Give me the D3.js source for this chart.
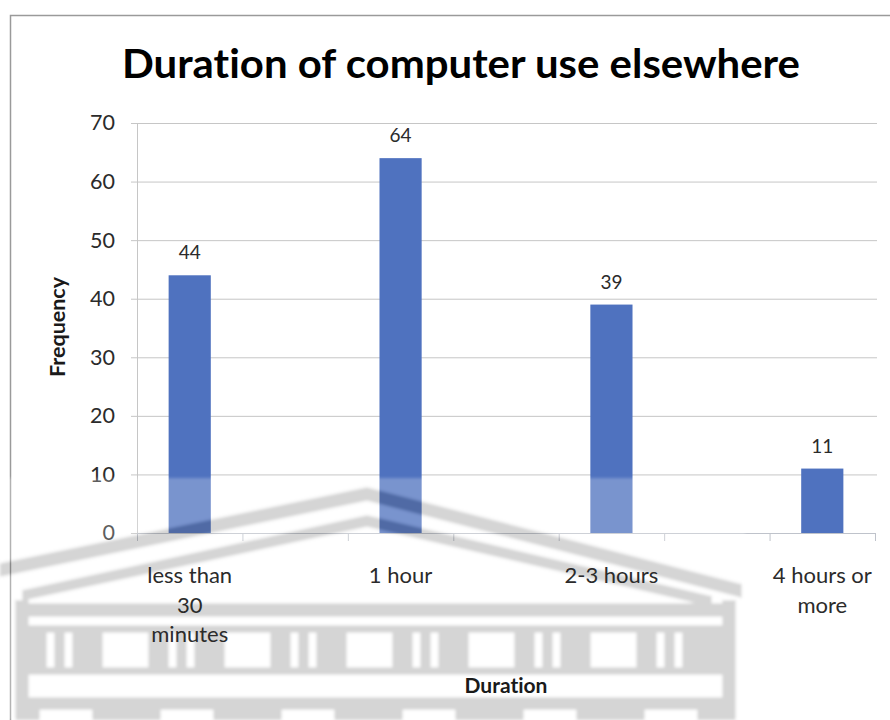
<!DOCTYPE html>
<html>
<head>
<meta charset="utf-8">
<script src="https://cdn.jsdelivr.net/npm/d3@7"></script>
<style>
  html, body { margin: 0; padding: 0; background: #ffffff; }
  svg { display: block; }
  text { font-family: Lato, "Open Sans", sans-serif; font-variant-ligatures: none; }
</style>
</head>
<body>
<svg id="chart" width="890" height="720"></svg>
<script>
// Chart content
const chartTitle = "Duration of computer use elsewhere";
const xTitle = "Duration";
const yTitle = "Frequency";
const categories = ["less than 30 minutes", "1 hour", "2-3 hours", "4 hours or more"];
const frequencies = [44, 64, 39, 11];
const categoryLabelLines = [["less than", "30", "minutes"], ["1 hour"], ["2-3 hours"], ["4 hours or", "more"]];
const yTickValues = [0, 10, 20, 30, 40, 50, 60, 70];
// the category axis has 7 slots; the categories sit on every other slot
const slotCount = 7;
const categorySlots = [0, 2, 4, 6];

const W = 890, H = 720;
const plot = { left: 137, right: 875, top: 123, bottom: 533 };
const barColor = "#4f72bf";
const gridColor = "#c6c6c6";
const textColor = "#2b2b2b";

const svg = d3.select("#chart");

const defs = svg.append("defs");
defs.append("filter").attr("id", "soft")
  .attr("x", "-5%").attr("y", "-5%").attr("width", "110%").attr("height", "110%")
  .append("feGaussianBlur").attr("stdDeviation", 1.6);

// outer chart frame
svg.append("rect")
  .attr("x", 10.5).attr("y", 15.5)
  .attr("width", W).attr("height", H)
  .attr("fill", "#ffffff")
  .attr("stroke", "#9a9a9a").attr("stroke-width", 1.5);

const x = d3.scaleBand()
  .domain(d3.range(slotCount))
  .range([plot.left, plot.right])
  .paddingInner(0).paddingOuter(0);

const y = d3.scaleLinear()
  .domain([0, 70])
  .range([plot.bottom, plot.top]);

// horizontal gridlines
svg.append("g")
  .selectAll("line")
  .data(yTickValues.filter(v => v > 0))
  .join("line")
  .attr("x1", plot.left).attr("x2", plot.right + 2)
  .attr("y1", d => y(d) + 0.5).attr("y2", d => y(d) + 0.5)
  .attr("stroke", gridColor).attr("stroke-width", 1);

// value axis
const yAxis = svg.append("g")
  .attr("transform", `translate(${plot.left},0)`)
  .call(d3.axisLeft(y).tickValues(yTickValues).tickSize(6).tickPadding(16).tickSizeOuter(0));
yAxis.select(".domain").attr("stroke", gridColor);
yAxis.selectAll(".tick line").attr("stroke", gridColor);
yAxis.selectAll(".tick text")
  .attr("fill", textColor)
  .style("font-family", "Lato, 'Open Sans', sans-serif")
  .style("font-size", "21.5px");

// category axis baseline and slot ticks
const slotEdges = d3.range(slotCount + 1).map(i => plot.left + i * x.step());
svg.append("line")
  .attr("x1", plot.left).attr("x2", plot.right)
  .attr("y1", y(0) + 0.5).attr("y2", y(0) + 0.5)
  .attr("stroke", "#bfc3cb").attr("stroke-width", 1.2);
svg.append("g")
  .selectAll("line")
  .data(slotEdges)
  .join("line")
  .attr("x1", d => d + 0.5).attr("x2", d => d + 0.5)
  .attr("y1", y(0)).attr("y2", y(0) + 8)
  .attr("stroke", "#bfc3cb").attr("stroke-width", 1);

// bars
const barFrac = 0.4;
const rows = categories.map((c, i) => ({ cat: c, value: frequencies[i], slot: categorySlots[i], lines: categoryLabelLines[i] }));
svg.append("g")
  .selectAll("rect")
  .data(rows)
  .join("rect")
  .attr("x", d => x(d.slot) + x.bandwidth() * (1 - barFrac) / 2)
  .attr("width", x.bandwidth() * barFrac)
  .attr("y", d => y(d.value))
  .attr("height", d => y(0) - y(d.value))
  .attr("fill", barColor);

// value labels
svg.append("g")
  .selectAll("text")
  .data(rows)
  .join("text")
  .attr("x", d => x(d.slot) + x.bandwidth() / 2)
  .attr("y", d => y(d.value) - 16)
  .attr("text-anchor", "middle")
  .attr("fill", textColor)
  .style("font-size", "19px")
  .text(d => d.value);

// faint building emblem printed across the lower half of the page
const wm = svg.append("g").attr("opacity", 0.24).attr("filter", "url(#soft)");
wm.append("rect").attr("x", 0).attr("y", 478).attr("width", 745).attr("height", 242).attr("fill", "#ffffff");
const ink = "#555555";
// roof: outer and inner raking bands
wm.append("path")
  .attr("d", "M0,563 L367,487 L742,584 L742,598 L367,501 L0,577 Z")
  .attr("fill", ink);
wm.append("path")
  .attr("d", "M22,590 L367,515 L712,596 L712,607 L367,527 L22,601 Z")
  .attr("fill", ink);
// cornice
wm.append("rect").attr("x", 15).attr("y", 603).attr("width", 718).attr("height", 14).attr("fill", ink);
// colonnade row
wm.append("rect").attr("x", 20).attr("y", 625).attr("width", 712).attr("height", 50).attr("fill", ink);
d3.range(5).forEach(k => {
  wm.append("rect").attr("x", 103 + 122 * k).attr("y", 633).attr("width", 45).attr("height", 34).attr("fill", "#ffffff");
});
d3.range(6).forEach(k => {
  const c = 60 + 122 * k;
  wm.append("rect").attr("x", c - 13).attr("y", 633).attr("width", 7).attr("height", 34).attr("fill", "#ffffff");
  wm.append("rect").attr("x", c + 5).attr("y", 633).attr("width", 7).attr("height", 34).attr("fill", "#ffffff");
});
// frieze band edges
wm.append("rect").attr("x", 20).attr("y", 697).attr("width", 712).attr("height", 23).attr("fill", ink);
wm.append("rect").attr("x", 15).attr("y", 600).attr("width", 14).attr("height", 120).attr("fill", ink);
wm.append("rect").attr("x", 722).attr("y", 600).attr("width", 14).attr("height", 120).attr("fill", ink);
d3.range(6).forEach(k => {
  wm.append("rect").attr("x", 40 + 121 * k).attr("y", 710).attr("width", 52).attr("height", 10).attr("fill", "#ffffff");
});

// category labels
const catLabels = svg.append("g")
  .selectAll("text")
  .data(rows)
  .join("text")
  .attr("x", d => x(d.slot) + x.bandwidth() / 2)
  .attr("y", 583)
  .attr("text-anchor", "middle")
  .attr("fill", textColor)
  .style("font-size", "22px");
catLabels.selectAll("tspan")
  .data(d => d.lines.map(l => ({ line: l, cx: x(d.slot) + x.bandwidth() / 2 })))
  .join("tspan")
  .attr("x", d => d.cx)
  .attr("dy", (d, i) => i === 0 ? 0 : 29.5)
  .text(d => d.line);

// titles
svg.append("text")
  .attr("x", 461).attr("y", 78)
  .attr("text-anchor", "middle")
  .attr("fill", "#000000")
  .attr("textLength", 678).attr("lengthAdjust", "spacingAndGlyphs")
  .style("font-size", "40px").style("font-weight", 700)
  .text(chartTitle);

svg.append("text")
  .attr("x", 506).attr("y", 693)
  .attr("text-anchor", "middle")
  .attr("fill", "#1a1a1a")
  .style("font-size", "21px").style("font-weight", 700)
  .text(xTitle);

svg.append("text")
  .attr("transform", "translate(65,327) rotate(-90)")
  .attr("text-anchor", "middle")
  .attr("fill", "#1a1a1a")
  .style("font-size", "21.5px").style("font-weight", 700)
  .text(yTitle);
</script>
</body>
</html>
